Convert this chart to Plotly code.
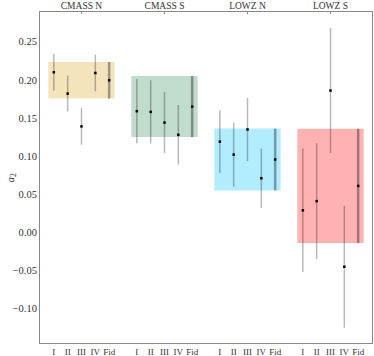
import plotly.graph_objects as go

# a2 measurements per sample, subsets I..IV plus fiducial
samples = ["CMASS N", "CMASS S", "LOWZ N", "LOWZ S"]
subsets = ["I", "II", "III", "IV", "Fid"]
box_colors = ["rgba(218,165,32,0.3)", "rgba(46,139,87,0.3)",
              "rgba(0,191,255,0.3)", "rgba(255,0,0,0.3)"]

cmass_n = [0.210, 0.182, 0.139, 0.209, 0.1995]
cmass_n_err = [0.024, 0.0235, 0.024, 0.024, 0.024]
cmass_s = [0.159, 0.158, 0.144, 0.128, 0.165]
cmass_s_err = [0.042, 0.0415, 0.040, 0.039, 0.040]
lowz_n = [0.119, 0.102, 0.135, 0.071, 0.0956]
lowz_n_err = [0.041, 0.042, 0.0415, 0.039, 0.0405]
lowz_s = [0.029, 0.041, 0.186, -0.045, 0.061]
lowz_s_err = [0.081, 0.076, 0.082, 0.080, 0.075]

values = [cmass_n, cmass_s, lowz_n, lowz_s]
errors = [cmass_n_err, cmass_s_err, lowz_n_err, lowz_s_err]

font = "Liberation Serif, serif"
fig = go.Figure()

tickvals, ticktext, centers = [], [], []
for g, (vals, errs) in enumerate(zip(values, errors)):
    xs = [g * 6 + i for i in range(len(subsets))]
    tickvals += xs
    ticktext += subsets
    centers.append(xs[2])
    # shaded band = fiducial value +- error
    fig.add_shape(type="rect", x0=xs[0] - 0.4, x1=xs[-1] + 0.4,
                  y0=vals[-1] - errs[-1], y1=vals[-1] + errs[-1],
                  fillcolor=box_colors[g], line_width=0, layer="below")
    fig.add_trace(go.Scatter(
        x=xs[:-1], y=vals[:-1], mode="markers",
        marker=dict(size=2.5, color="black", symbol="square"),
        error_y=dict(type="data", array=errs[:-1], width=0,
                     color="rgba(0,0,0,0.28)", thickness=1.5),
        showlegend=False))
    fig.add_trace(go.Scatter(
        x=xs[-1:], y=vals[-1:], mode="markers",
        marker=dict(size=2.5, color="black", symbol="square"),
        error_y=dict(type="data", array=errs[-1:], width=0,
                     color="rgba(0,0,0,0.35)", thickness=2.5),
        showlegend=False))

# dummy trace to activate the top axis
fig.add_trace(go.Scatter(x=[centers[0]], y=[None], xaxis="x2",
                         showlegend=False, hoverinfo="skip"))

axis_line = dict(showline=True, linecolor="#888888", linewidth=1,
                 showgrid=False, zeroline=False, automargin=False)
fig.update_layout(
    width=374, height=356,
    margin=dict(l=40, r=2, t=12, b=13),
    plot_bgcolor="white", paper_bgcolor="white",
    font=dict(family=font, size=10, color="#333333"),
    xaxis=dict(range=[-1, 23], tickvals=tickvals, ticktext=ticktext,
               ticks="", ticklabelstandoff=0, tickfont=dict(size=9),
               mirror=False, **axis_line),
    xaxis2=dict(range=[-1, 23], overlaying="x", side="top",
                tickvals=centers, ticktext=samples, ticks="inside",
                ticklen=2, tickcolor="#888888", ticklabelstandoff=-2,
                tickfont=dict(size=9.5), **axis_line),
    yaxis=dict(range=[-0.145, 0.289],
               tickvals=[-0.10, -0.05, 0.0, 0.05, 0.10, 0.15, 0.20, 0.25],
               ticktext=["\u22120.10", "\u22120.05", "0.00", "0.05", "0.10",
                         "0.15", "0.20", "0.25"],
               ticks="", ticklabelstandoff=0, tickfont=dict(size=10.5),
               mirror=True, **axis_line),
    annotations=[dict(text="<i>a</i><sub>2</sub>", xref="paper", yref="paper",
                      x=-30 / 332, y=0.5, xanchor="center", yanchor="middle",
                      showarrow=False, textangle=-90, font=dict(size=11))],
)

fig.write_html("out.html", config={"displayModeBar": False},
               post_script="document.body.style.margin='0px';")
